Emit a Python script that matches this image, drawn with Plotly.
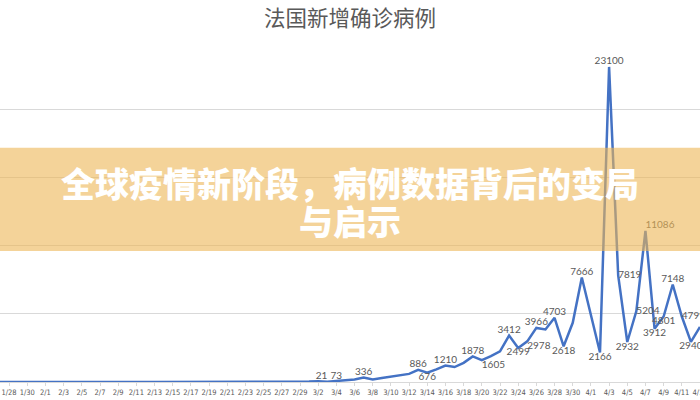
import plotly.graph_objects as go

dates = ["1/24", "1/25", "1/26", "1/27", "1/28", "1/29", "1/30", "1/31",
         "2/1", "2/2", "2/3", "2/4", "2/5", "2/6", "2/7", "2/8", "2/9", "2/10",
         "2/11", "2/12", "2/13", "2/14", "2/15", "2/16", "2/17", "2/18", "2/19",
         "2/20", "2/21", "2/22", "2/23", "2/24", "2/25", "2/26", "2/27", "2/28", "2/29",
         "3/1", "3/2", "3/3", "3/4", "3/5", "3/6", "3/7", "3/8", "3/9", "3/10",
         "3/11", "3/12", "3/13", "3/14", "3/15", "3/16", "3/17", "3/18", "3/19",
         "3/20", "3/21", "3/22", "3/23", "3/24", "3/25", "3/26", "3/27", "3/28",
         "3/29", "3/30", "3/31",
         "4/1", "4/2", "4/3", "4/4", "4/5", "4/6", "4/7", "4/8", "4/9", "4/10",
         "4/11", "4/12", "4/13"]

new_cases = [3, 0, 0, 0, 1, 1, 0, 0,
             0, 0, 0, 0, 0, 0, 0, 5, 0, 0,
             0, 0, 0, 0, 1, 0, 0, 0, 0,
             0, 0, 0, 0, 0, 2, 4, 20, 19, 43,
             30, 61, 21, 73, 138, 190, 336, 177, 286, 372,
             497, 595, 886, 676, 924, 1210, 1097, 1404, 1878,
             1605, 1890, 2250, 3412, 2499, 2978, 3966, 3850, 4703,
             2618, 4340, 7666,
             4861, 2166, 23100, 7819, 2932, 5204, 11086, 3912, 4801, 7148,
             4799, 2940, 4040]

# dates whose values carry a data label, and where that label sits
label_pos = {
    "3/3": "top left", "3/4": "top center", "3/7": "top center",
    "3/13": "top center", "3/14": "bottom center", "3/16": "top center",
    "3/19": "top center", "3/20": "bottom right", "3/23": "top center",
    "3/24": "bottom center", "3/25": "bottom right", "3/26": "top center",
    "3/28": "top center", "3/29": "bottom center", "3/31": "top center",
    "4/2": "bottom center", "4/3": "top center", "4/4": "middle right",
    "4/5": "bottom center", "4/6": "middle right", "4/7": "top right",
    "4/8": "bottom center", "4/9": "bottom center", "4/10": "top center",
    "4/11": "middle right", "4/12": "bottom center",
}

title_text = "法国新增确诊病例"
banner_line1 = "全球疫情新阶段，病例数据背后的变局"
banner_line2 = "与启示"

xi = list(range(len(dates)))
texts = [str(v) if d in label_pos else "" for d, v in zip(dates, new_cases)]
tpos = [label_pos.get(d, "top center") for d in dates]

fig = go.Figure()
fig.add_trace(go.Scatter(
    x=xi, y=new_cases, mode="lines",
    line=dict(color="#4472C4", width=2.5),
    hoverinfo="skip", showlegend=False,
))
fig.add_trace(go.Scatter(
    x=xi, y=new_cases, mode="text", text=texts, textposition=tpos,
    textfont=dict(family="Lato, Liberation Sans, sans-serif", size=10, color="#595959"),
    cliponaxis=False, hoverinfo="skip", showlegend=False,
))

tick_idx = xi[4::2]
tick_txt = dates[4::2]

fig.update_layout(
    width=700, height=400,
    margin=dict(l=0, r=0, t=41, b=18),
    paper_bgcolor="white", plot_bgcolor="white",
    hovermode=False,
    title=dict(text=title_text, x=0.5, xanchor="center", y=0.955, yanchor="middle",
               yref="container",
               font=dict(family="Noto Sans CJK SC, sans-serif", size=21.5, color="#595959")),
    xaxis=dict(range=[3, 80], tickvals=tick_idx, ticktext=tick_txt, tickangle=0,
               ticklabeloverflow="allow",
               showgrid=False, zeroline=False, showline=True, linecolor="#d9d9d9",
               ticks="outside", ticklen=3, tickcolor="#d9d9d9", automargin=False,
               tickfont=dict(family="DejaVu Sans Condensed, Roboto, sans-serif", size=7.5, color="#595959")),
    yaxis=dict(range=[0, 25000], dtick=5000, showticklabels=False,
               showgrid=True, gridcolor="#d9d9d9", gridwidth=1, zeroline=False,
               automargin=False),
)

fig.add_shape(type="rect", xref="paper", yref="y", x0=0, x1=1, y0=9610, y1=17180,
              fillcolor="rgba(237,182,85,0.6)", line=dict(width=0), layer="above")

banner_font = dict(family="Noto Sans CJK SC, sans-serif", size=34, color="white", weight=900)
fig.add_annotation(xref="paper", yref="y", x=0.5, y=14650, text=banner_line1,
                   showarrow=False, font=banner_font, xanchor="center", yanchor="middle")
fig.add_annotation(xref="paper", yref="y", x=0.5, y=11850, text=banner_line2,
                   showarrow=False, font=banner_font, xanchor="center", yanchor="middle")

fig.write_html("out.html", config={"displayModeBar": False},
               post_script="document.body.style.margin='0';")
